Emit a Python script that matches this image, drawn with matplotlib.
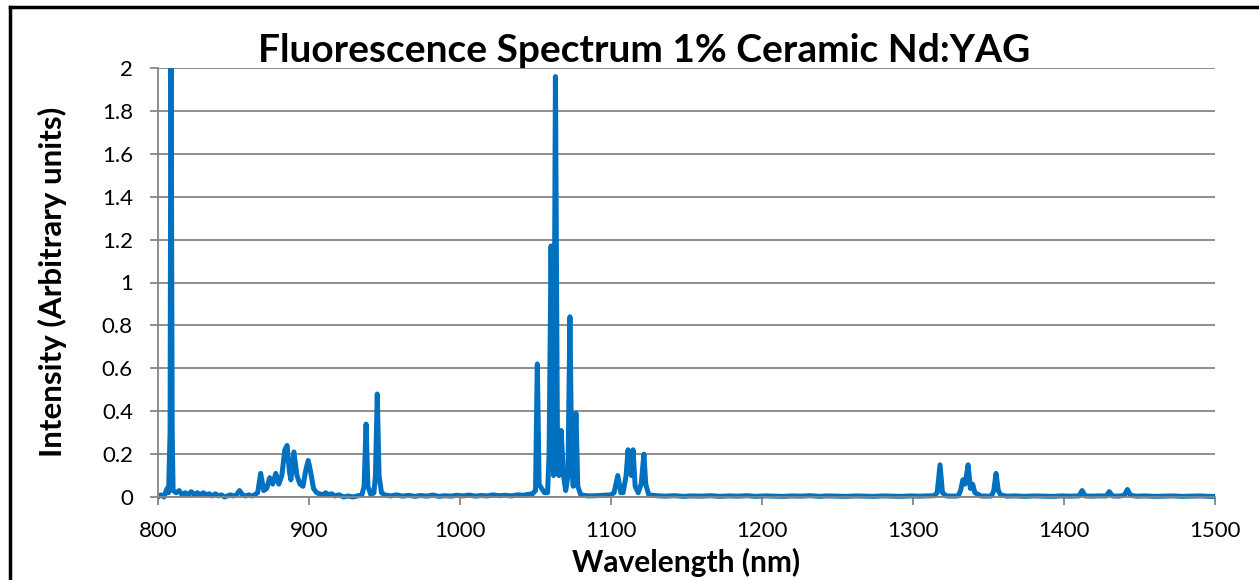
import matplotlib
matplotlib.use("Agg")
import matplotlib.pyplot as plt
from matplotlib.lines import Line2D
from matplotlib.patches import Rectangle

plt.rcParams['font.family'] = ['Lato', 'DejaVu Sans']

# spectrum (wavelength nm, intensity a.u.)
wavelength = [
    800, 802, 804, 805, 806, 807, 808, 808.6, 809.4, 810,
    812, 814, 816, 818, 820, 822, 824, 826, 828, 830,
    832, 834, 836, 838, 840, 842, 844, 846, 848, 850,
    852, 854, 856, 858, 860, 862, 864, 866, 868, 870,
    872, 874, 876, 878, 880, 882, 884, 885.5, 887, 888,
    890, 892, 894, 896, 898, 899.5, 901, 903, 905, 907,
    909, 911, 913, 915, 917, 920, 923, 926, 929, 932,
    935, 936.5, 937.8, 939, 941, 943, 944, 945.2, 946.4, 948,
    950, 954, 958, 962, 966, 970, 974, 978, 982, 986,
    990, 994, 998, 1002, 1006, 1010, 1014, 1018, 1022, 1026,
    1030, 1034, 1038, 1042, 1045, 1048, 1050, 1051.2, 1052.4, 1054,
    1056, 1058, 1059, 1060.3, 1061.3, 1062, 1063.2, 1064.5, 1065.5, 1067,
    1068.5, 1070, 1071.5, 1072.8, 1074, 1075, 1076.8, 1078, 1080, 1085,
    1090, 1095, 1100, 1102, 1104.5, 1106.5, 1108, 1110, 1111.3, 1112.5,
    1113.5, 1114.6, 1116, 1118, 1120, 1121.8, 1123, 1125, 1130, 1136,
    1142, 1148, 1154, 1160, 1166, 1172, 1178, 1184, 1190, 1196,
    1202, 1208, 1214, 1220, 1226, 1232, 1238, 1244, 1250, 1256,
    1262, 1268, 1274, 1280, 1286, 1292, 1298, 1304, 1310, 1314,
    1316, 1317.9, 1319.5, 1322, 1326, 1330, 1331.5, 1333, 1334.5, 1336.5,
    1338, 1339.5, 1341, 1345, 1349, 1352, 1353.5, 1355, 1356.5, 1358,
    1362, 1368, 1374, 1380, 1386, 1392, 1398, 1404, 1410, 1412,
    1414, 1418, 1422, 1428, 1430, 1432, 1436, 1440, 1442, 1444,
    1448, 1454, 1460, 1466, 1472, 1478, 1484, 1490, 1496, 1500,
]
intensity = [
    0.0, 0.01, 0.0, 0.02, 0.04, 0.02, 0.3, 2.3, 0.3, 0.03,
    0.02, 0.03, 0.01, 0.02, 0.01, 0.025, 0.01, 0.02, 0.01, 0.02,
    0.01, 0.015, 0.005, 0.015, 0.005, 0.01, 0.0, 0.005, 0.01, 0.005,
    0.01, 0.03, 0.01, 0.005, 0.01, 0.005, 0.01, 0.02, 0.11, 0.03,
    0.04, 0.09, 0.06, 0.11, 0.06, 0.1, 0.22, 0.24, 0.12, 0.08,
    0.21, 0.1, 0.06, 0.05, 0.13, 0.17, 0.12, 0.04, 0.02, 0.015,
    0.01, 0.02, 0.01, 0.015, 0.005, 0.01, 0.0, 0.005, 0.0, 0.005,
    0.01, 0.05, 0.34, 0.05, 0.01, 0.02, 0.1, 0.48, 0.1, 0.02,
    0.01, 0.005, 0.01, 0.004, 0.008, 0.003, 0.007, 0.004, 0.009, 0.003,
    0.006, 0.004, 0.008, 0.005, 0.009, 0.004, 0.007, 0.005, 0.01, 0.006,
    0.008, 0.005, 0.01, 0.008, 0.012, 0.015, 0.03, 0.62, 0.06, 0.04,
    0.02, 0.02, 0.2, 1.17, 0.5, 0.1, 1.96, 0.3, 0.1, 0.31,
    0.1, 0.03, 0.1, 0.84, 0.15, 0.05, 0.39, 0.05, 0.01, 0.005,
    0.006, 0.008, 0.01, 0.02, 0.1, 0.02, 0.02, 0.1, 0.22, 0.12,
    0.1, 0.22, 0.05, 0.02, 0.06, 0.2, 0.06, 0.01, 0.006, 0.004,
    0.006, 0.003, 0.005, 0.004, 0.006, 0.003, 0.005, 0.004, 0.006, 0.003,
    0.005, 0.004, 0.003, 0.005, 0.004, 0.006, 0.003, 0.005, 0.004, 0.003,
    0.005, 0.004, 0.003, 0.005, 0.004, 0.003, 0.005, 0.004, 0.005, 0.006,
    0.02, 0.15, 0.02, 0.005, 0.004, 0.005, 0.03, 0.08, 0.06, 0.15,
    0.04, 0.06, 0.02, 0.005, 0.004, 0.005, 0.03, 0.11, 0.03, 0.01,
    0.004, 0.005, 0.003, 0.005, 0.004, 0.003, 0.005, 0.004, 0.005, 0.03,
    0.005, 0.004, 0.005, 0.005, 0.025, 0.005, 0.004, 0.008, 0.035, 0.008,
    0.004, 0.005, 0.003, 0.004, 0.005, 0.003, 0.004, 0.005, 0.003, 0.003,
]

xticks = [800, 900, 1000, 1100, 1200, 1300, 1400, 1500]
yticks = [0, 0.2, 0.4, 0.6, 0.8, 1, 1.2, 1.4, 1.6, 1.8, 2]
ytick_labels = ['0', '0.2', '0.4', '0.6', '0.8', '1', '1.2', '1.4', '1.6', '1.8', '2']

grid_col = '#868686'

fig = plt.figure(figsize=(12.59, 5.80), dpi=100)
ax = fig.add_axes([158/1259, 1-497/580, (1215-158)/1259, (497-68)/580])
ax.set_facecolor('white')

line, = ax.plot(wavelength, intensity, color='#0070C0', lw=3.6,
                solid_joinstyle='round', solid_capstyle='round')
line.set_clip_path(Rectangle((0, -0.05), 1, 1.05, transform=ax.transAxes))

ax.set_xlim(800, 1500)
ax.set_ylim(0, 2)
ax.set_xticks(xticks)
ax.set_yticks(yticks)
ax.set_yticklabels(ytick_labels)
ax.yaxis.grid(True, color=grid_col, lw=1.3)
ax.set_axisbelow(True)
for s in ['top', 'right']:
    ax.spines[s].set_visible(False)
for s in ['left', 'bottom']:
    ax.spines[s].set_color(grid_col)
    ax.spines[s].set_linewidth(1.3)
ax.tick_params(axis='both', direction='out', length=6, width=1.3, color=grid_col, labelsize=16)
ax.tick_params(axis='x', pad=11)
ax.tick_params(axis='y', pad=12)

ax.set_xlabel('Wavelength (nm)', fontsize=21.5, fontweight='bold')
ax.xaxis.set_label_coords(686/1259, 1-572/580, transform=fig.transFigure)
ax.xaxis.label.set_va('baseline')
ax.set_ylabel('Intensity (Arbitrary units)', fontsize=22.5, fontweight='bold')
ax.yaxis.set_label_coords(52/1259, 1-282/580, transform=fig.transFigure)
ax.yaxis.label.set_va('center')

# title sits behind the plot area, so its lower edge is covered
fig.text(644/1259, 1-62/580, 'Fluorescence Spectrum 1% Ceramic Nd:YAG', ha='center', va='baseline',
         fontsize=28, fontweight='bold', zorder=-1)

# chart frame (only top and left edges show)
fig.add_artist(Line2D([10/1259, 10/1259], [0, 1-6.5/580], color='black', lw=2.5))
fig.add_artist(Line2D([10/1259, 1], [1-6.5/580, 1-6.5/580], color='black', lw=2.5))

fig.savefig('out.png', dpi=100)
